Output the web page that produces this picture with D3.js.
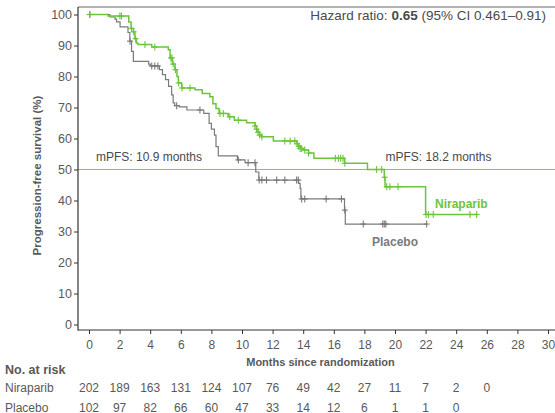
<!DOCTYPE html>
<html>
<head>
<meta charset="utf-8">
<script src="https://cdn.jsdelivr.net/npm/d3@7"></script>
<style>
  body { margin: 0; background: #fff; }
  svg { display: block; font-family: "Liberation Sans", Arial, sans-serif; }
</style>
</head>
<body>
<svg id="chart" width="555" height="413"></svg>
<script>
// Axis ticks
const xTickValues = d3.range(0, 31, 2);
const yTickValues = d3.range(0, 101, 10);

// Kaplan–Meier step data: time of each event (months) and survival (%) after it
const niraTimes = [0, 1.24, 2.6, 2.75, 2.9, 3.0, 3.1, 3.2, 4.1, 5.18, 5.3, 5.45, 5.62, 5.75, 5.84, 6.06, 6.93, 7.4, 7.9, 8.1, 8.3, 8.5, 9.1, 9.5, 10.3, 10.85, 10.95, 11.05, 11.15, 11.3, 12.05, 13.6, 13.7, 13.8, 14.0, 14.35, 14.7, 16.7, 18.2, 19.3, 19.35, 22.0];
const niraSurv  = [100, 99.5, 97.6, 95.5, 94.4, 92.2, 90.8, 90.3, 89.5, 88.6, 86, 84, 82.2, 80, 77.9, 76.3, 75.7, 74.5, 73.5, 71.2, 69.7, 68.1, 67.0, 65.9, 65.1, 64, 63, 62, 61.1, 60.6, 59.2, 58.3, 57.5, 56.8, 56.3, 55.3, 53.6, 52.0, 50.0, 47.5, 44.4, 35.5];
const niraCensor = [0.05, 2.02, 2.12, 2.78, 2.92, 3.05, 3.66, 4.3, 5.35, 5.42, 5.5, 5.65, 5.86, 6.08, 6.6, 8.56, 8.78, 9.2, 9.76, 10.85, 10.95, 11.05, 11.15, 11.3, 12.8, 13.15, 13.45, 13.6, 13.7, 13.8, 13.9, 14.1, 14.35, 16.1, 16.3, 16.45, 16.6, 16.72, 18.8, 19.13, 19.32, 19.46, 19.67, 20.2, 22.03, 22.18, 22.5, 24.9, 25.34];
const niraEnd = 25.4;

const placTimes = [0, 1.37, 1.7, 1.8, 2.03, 2.55, 2.67, 2.78, 2.9, 3.9, 4.0, 4.6, 4.8, 5.0, 5.2, 5.4, 5.5, 5.6, 5.9, 6.4, 7.5, 7.85, 8.0, 8.2, 8.3, 8.45, 9.7, 10.2, 10.9, 11.1, 13.7, 13.8, 13.85, 16.7, 16.75];
const placSurv  = [100, 99.2, 98.5, 97.6, 96, 94.2, 91.4, 88.1, 84.9, 84, 83.4, 82.2, 80.6, 79, 76.8, 74.1, 71.5, 70.6, 70.2, 69.2, 68.1, 64.9, 63, 61.1, 57.4, 54.4, 53.1, 52.2, 49.2, 46.6, 45.5, 43.9, 40.5, 36.9, 32.4];
const placCensor = [0.05, 2.68, 4.1, 4.3, 4.5, 5.73, 7.25, 9.76, 10.4, 10.85, 11.12, 11.3, 11.6, 12.27, 12.8, 13.57, 13.68, 13.9, 14.1, 15.5, 16.5, 16.72, 17.93, 19.2, 19.3, 19.4, 22.07];
const placEnd = 22.07;

// Numbers at risk
const riskMonths = [0, 2, 4, 6, 8, 10, 12, 14, 16, 18, 20, 22, 24, 26];
const niraRisk = [202, 189, 163, 131, 124, 107, 76, 49, 42, 27, 11, 7, 2, 0];
const placRisk = [102, 97, 82, 66, 60, 47, 33, 14, 12, 6, 1, 1, 0];

// Medians
const niraMedian = 18.2;
const placMedian = 10.9;

const GREEN = "#6cc43c";
const GRAY = "#7a7a7a";
const TEXT = "#595959";

const svg = d3.select("#chart");

const frame = { left: 78, right: 555, top: 7, bottom: 330 };
const x = d3.scaleLinear().domain([0, 30]).range([89, 548]);
const y = d3.scaleLinear().domain([0, 100]).range([324.5, 14.5]);

// Frame: top border
svg.append("line").attr("x1", frame.left).attr("x2", frame.right)
  .attr("y1", frame.top).attr("y2", frame.top)
  .attr("stroke", "#666").attr("stroke-width", 1.2);

// 50% reference line
svg.append("line").attr("x1", frame.left).attr("x2", frame.right)
  .attr("y1", y(50)).attr("y2", y(50))
  .attr("stroke", "#aaa49b").attr("stroke-width", 1.1);

// Y axis
const yAxis = svg.append("g").attr("transform", `translate(${frame.left},0)`)
  .call(d3.axisLeft(y).tickValues(yTickValues).tickSize(4).tickPadding(2));
yAxis.select(".domain").remove();
yAxis.selectAll(".tick line").attr("stroke", "#333");
yAxis.selectAll(".tick text").attr("fill", TEXT)
  .style("font-size", "12.5px").style("font-family", '"Liberation Sans", Arial, sans-serif');
svg.append("line").attr("x1", frame.left).attr("x2", frame.left)
  .attr("y1", frame.top).attr("y2", frame.bottom + 0.5)
  .attr("stroke", "#333").attr("stroke-width", 1.2);

// X axis
const xAxis = svg.append("g").attr("transform", `translate(0,${frame.bottom})`)
  .call(d3.axisBottom(x).tickValues(xTickValues).tickSize(4).tickPadding(6));
xAxis.select(".domain").remove();
xAxis.selectAll(".tick line").attr("stroke", "#333");
xAxis.selectAll(".tick text").attr("fill", TEXT)
  .style("font-size", "12px").style("font-family", '"Liberation Sans", Arial, sans-serif');
svg.append("line").attr("x1", frame.left).attr("x2", frame.right)
  .attr("y1", frame.bottom).attr("y2", frame.bottom)
  .attr("stroke", "#333").attr("stroke-width", 1.2);

// Axis titles
svg.append("text")
  .attr("transform", `translate(41,${(y(0) + y(100)) / 2 + 6}) rotate(-90)`)
  .attr("text-anchor", "middle").attr("fill", TEXT)
  .style("font-size", "11.5px").style("font-weight", "bold")
  .text("Progression-free survival (%)");

svg.append("text").attr("x", 320.5).attr("y", 366)
  .attr("text-anchor", "middle").attr("fill", TEXT)
  .style("font-size", "11px").style("font-weight", "bold")
  .text("Months since randomization");

// Survival curves
function stepPoints(times, surv, end) {
  const pts = times.map((t, i) => [t, surv[i]]);
  pts.push([end, surv[surv.length - 1]]);
  return pts;
}
function survAt(times, surv, t) {
  let v = surv[0];
  for (let i = 0; i < times.length; i++) if (times[i] <= t) v = surv[i];
  return v;
}
const line = d3.line().x(d => x(d[0])).y(d => y(d[1])).curve(d3.curveStepAfter);

function drawArm(times, surv, censor, end, color, width) {
  const g = svg.append("g");
  g.append("path").datum(stepPoints(times, surv, end))
    .attr("d", line).attr("fill", "none")
    .attr("stroke", color).attr("stroke-width", width);
  const marks = g.selectAll("g.censor").data(censor).enter().append("g")
    .attr("class", "censor")
    .attr("transform", t => `translate(${x(t)},${y(survAt(times, surv, t))})`);
  marks.append("line").attr("x1", 0).attr("x2", 0).attr("y1", -3.5).attr("y2", 3.5)
    .attr("stroke", color).attr("stroke-width", 1.1);
  marks.append("line").attr("x1", -3).attr("x2", 3).attr("y1", 0).attr("y2", 0)
    .attr("stroke", color).attr("stroke-width", 1.1);
}
drawArm(placTimes, placSurv, placCensor, placEnd, GRAY, 1.2);
drawArm(niraTimes, niraSurv, niraCensor, niraEnd, GREEN, 1.5);

// Annotations
const hr = svg.append("text").attr("x", 546).attr("y", 20)
  .attr("text-anchor", "end").attr("fill", "#4a4a4a").style("font-size", "13.5px");
hr.append("tspan").text("Hazard ratio: ");
hr.append("tspan").style("font-weight", "bold").text("0.65");
hr.append("tspan").text(" (95% CI 0.461\u20130.91)");

svg.append("text").attr("x", 96).attr("y", 161).attr("fill", "#4a4a4a")
  .style("font-size", "12px").text(`mPFS: ${placMedian} months`);
svg.append("text").attr("x", 385.5).attr("y", 161).attr("fill", "#4a4a4a")
  .style("font-size", "12px").text(`mPFS: ${niraMedian} months`);

svg.append("text").attr("x", 435).attr("y", 207.5).attr("fill", GREEN)
  .style("font-size", "12px").style("font-weight", "bold").text("Niraparib");
svg.append("text").attr("x", 372).attr("y", 246).attr("fill", GRAY)
  .style("font-size", "12px").style("font-weight", "bold").text("Placebo");

// Numbers-at-risk table
svg.append("text").attr("x", 5).attr("y", 374).attr("fill", TEXT)
  .style("font-size", "12.5px").style("font-weight", "bold").text("No. at risk");
svg.append("text").attr("x", 5).attr("y", 392).attr("fill", TEXT)
  .style("font-size", "12px").text("Niraparib");
svg.append("text").attr("x", 5).attr("y", 411.5).attr("fill", TEXT)
  .style("font-size", "12px").text("Placebo");

svg.append("g").selectAll("text").data(niraRisk).enter().append("text")
  .attr("x", (d, i) => x(riskMonths[i])).attr("y", 392)
  .attr("text-anchor", "middle").attr("fill", TEXT).style("font-size", "12px")
  .text(d => d);
svg.append("g").selectAll("text").data(placRisk).enter().append("text")
  .attr("x", (d, i) => x(riskMonths[i])).attr("y", 411.5)
  .attr("text-anchor", "middle").attr("fill", TEXT).style("font-size", "12px")
  .text(d => d);
</script>
</body>
</html>
